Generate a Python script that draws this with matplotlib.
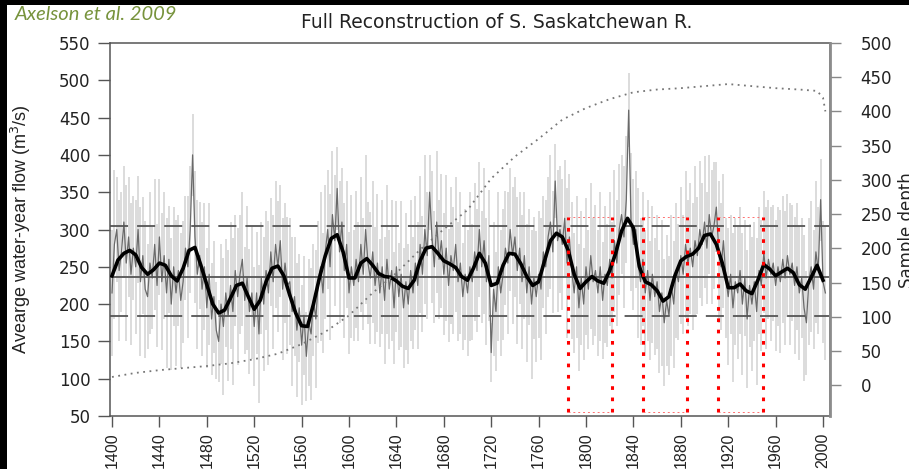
import numpy as np
import matplotlib.pyplot as plt
from matplotlib.patches import Rectangle

# annual reconstruction (every 2nd year, 1400-2002)
years = np.arange(1400, 2003, 2)
flow = [
    # 1400-1498
    215, 280, 300, 245, 270, 310, 255, 290, 240, 275,
    250, 300, 230, 265, 220, 210, 255, 235, 280, 225,
    290, 230, 265, 215, 260, 200, 250, 215, 245, 205,
    230, 275, 250, 300, 400, 290, 240, 265, 220, 250,
    195, 240, 180, 210, 165, 150, 200, 170, 215, 185,
    # 1500-1598
    225, 190, 245, 210, 240, 260, 205, 235, 190, 215,
    170, 215, 160, 235, 200, 245, 215, 270, 230, 280,
    250, 285, 220, 255, 225, 230, 190, 210, 165, 195,
    145, 185, 130, 175, 160, 205, 180, 230, 250, 215,
    270, 300, 250, 320, 285, 355, 270, 310, 245, 280,
    # 1600-1698
    215, 250, 225, 260, 230, 280, 240, 300, 255, 235,
    270, 225, 255, 215, 250, 205, 260, 220, 245, 195,
    250, 210, 240, 195, 230, 200, 245, 215, 255, 225,
    280, 240, 300, 265, 350, 290, 250, 310, 260, 285,
    240, 275, 225, 265, 245, 280, 230, 255, 210, 240,
    # 1700-1798
    215, 250, 230, 270, 245, 300, 250, 285, 230, 265,
    135, 220, 190, 250, 215, 240, 275, 255, 300, 265,
    290, 245, 275, 230, 265, 215, 250, 200, 235, 210,
    240, 220, 270, 250, 290, 310, 270, 365, 285, 300,
    280, 315, 255, 290, 245, 215, 250, 195, 235, 200,
    # 1800-1898
    250, 220, 265, 230, 245, 215, 250, 205, 240, 225,
    260, 235, 285, 255, 300, 320, 290, 340, 460, 310,
    280, 300, 255, 230, 260, 215, 245, 205, 240, 210,
    230, 190, 215, 175, 205, 185, 225, 200, 245, 230,
    265, 240, 280, 255, 275, 250, 285, 265, 300, 280,
    # 1900-1998
    310, 275, 320, 290, 305, 330, 270, 250, 285, 235,
    210, 240, 195, 230, 215, 245, 200, 235, 180, 225,
    200, 230, 190, 245, 225, 270, 235, 260, 240, 255,
    225, 250, 230, 260, 235, 265, 240, 255, 225, 250,
    215, 235, 195, 175, 230, 250, 220, 270, 245, 340,
    # 2000-2002
    230, 215,
]
# half height of the light grey range bar for each year
spread = [
    85, 100, 70, 95, 80, 75, 105, 80, 95, 70,
    90, 72, 100, 78, 92, 70, 95, 68, 88, 82,
    78, 92, 85, 100, 72, 88, 80, 98, 75, 90,
    82, 70, 95, 85, 55, 88, 100, 72, 90, 85,
    80, 95, 75, 75, 65, 55, 80, 92, 72, 88,

    85, 98, 75, 92, 80, 90, 72, 96, 84, 88,
    80, 82, 92, 75, 90, 80, 96, 72, 90, 85,
    88, 75, 95, 80, 92, 85, 100, 80, 90, 72,
    80, 80, 60, 85, 88, 75, 92, 82, 100, 80,
    90, 80, 98, 85, 88, 55, 95, 72, 90, 85,

    82, 96, 74, 92, 80, 90, 75, 100, 82, 88,
    95, 78, 92, 72, 90, 85, 100, 80, 95, 75,
    88, 72, 98, 80, 92, 80, 95, 75, 90, 85,
    92, 78, 100, 85, 50, 88, 75, 95, 80, 90,
    82, 98, 76, 92, 85, 90, 80, 95, 72, 88,

    85, 100, 78, 92, 82, 90, 75, 98, 85, 88,
    40, 90, 80, 100, 85, 88, 76, 95, 82, 92,
    80, 98, 75, 90, 85, 92, 78, 100, 82, 88,
    85, 95, 75, 90, 80, 90, 82, 50, 95, 85,
    88, 78, 100, 85, 92, 80, 95, 85, 90, 75,

    92, 80, 98, 85, 88, 85, 100, 78, 92, 82,
    90, 75, 95, 85, 88, 80, 95, 85, 50, 92,
    88, 78, 100, 85, 90, 85, 95, 80, 92, 78,
    90, 82, 98, 85, 88, 80, 95, 85, 90, 78,
    92, 80, 98, 85, 88, 85, 100, 78, 92, 82,

    88, 75, 80, 90, 85, 60, 95, 85, 90, 80,
    92, 80, 100, 85, 88, 85, 95, 78, 92, 82,
    90, 80, 98, 85, 88, 82, 95, 80, 90, 78,
    88, 80, 96, 85, 90, 82, 95, 78, 92, 85,
    90, 80, 98, 70, 85, 88, 80, 95, 85, 55,

    82, 90,
]

# smoothed reconstruction, every 5 years
smooth_years = np.arange(1400, 2001, 5)
smooth = [
    238, 259, 268, 272, 266, 249, 240, 246, 255, 252,
    238, 231, 248, 272, 276, 252, 226, 200, 188, 192,
    208, 225, 228, 210, 193, 205, 230, 248, 251, 238,
    212, 188, 171, 170, 200, 235, 265, 288, 293, 270,
    235, 235, 255, 261, 252, 241, 237, 236, 231, 224,
    221, 232, 258, 275, 277, 268, 258, 254, 249, 237,
    232, 248, 268, 255, 225, 228, 252, 268, 267, 254,
    237, 225, 230, 258, 285, 295, 290, 272, 240, 221,
    230, 237, 231, 228, 245, 268, 298, 315, 302, 250,
    230, 226, 218, 204, 210, 238, 258, 264, 267, 275,
    292, 294, 280, 255, 222, 222, 227, 218, 214, 232,
    253, 247, 238, 243, 248, 242, 226, 220, 236, 252,
    232,
]

mean_flow = 236
band = [305, 184]

# sample depth (right axis)
depth_years = [1400, 1420, 1440, 1460, 1480, 1500, 1520, 1540, 1560, 1580,
               1600, 1620, 1640, 1660, 1680, 1700, 1720, 1740, 1760, 1780,
               1800, 1820, 1840, 1860, 1880, 1900, 1920, 1940, 1960, 1980,
               1995, 2000, 2002]
depth = [12, 18, 22, 25, 28, 32, 38, 46, 60, 78,
         102, 135, 164, 198, 228, 256, 302, 334, 360, 388,
         405, 418, 428, 432, 434, 437, 440, 437, 434, 432,
         430, 420, 400]

# drought periods marked in red
box_start = [1785, 1848, 1911]
box_end = [1822, 1885, 1949]
box_low, box_high = 55, 317

fig = plt.figure(figsize=(9.09, 4.69), dpi=100, facecolor='black')
fig.patches.append(Rectangle((7 / 909, 0), 1, 464 / 469, transform=fig.transFigure,
                             facecolor='white', edgecolor='none', zorder=-1))
ax = fig.add_axes([110 / 909, 1 - 416 / 469, 720 / 909, 373 / 469])

flow = np.array(flow)
spread = np.array(spread)
ax.vlines(years, flow - spread, flow + spread, color='#dcdcdc', lw=1.4, zorder=1)
ax.plot(years, flow, color='#6a6a6a', lw=0.9, zorder=2)

ax.axhline(mean_flow, color='#555555', lw=1.3, zorder=3)
for lvl in band:
    ax.axhline(lvl, color='#555555', lw=1.3, ls=(0, (10, 5)), zorder=3)

ax.plot(smooth_years, smooth, color='black', lw=2.6, zorder=4)

for a, b in zip(box_start, box_end):
    ax.vlines([a, b], box_low, box_high, color='red', lw=2.2, ls=(0, (1.2, 2.5)), zorder=5)
    ax.hlines([box_low, box_high], a, b, color='#ff7070', lw=0.7, ls=(0, (2, 3)), zorder=5)

ax.set_xlim(1398.3, 2005.9)
ax.set_ylim(50, 550)
ax.set_xticks(np.arange(1400, 2001, 40))
ax.set_yticks(np.arange(50, 551, 50))
ax.tick_params(axis='y', direction='out', length=9, width=1, color='#555555', pad=5,
               labelsize=12, labelcolor='#222222')
ax.tick_params(axis='x', direction='out', length=8, width=1, color='#555555', pad=4,
               labelsize=11.5, labelcolor='#222222', labelrotation=90)
for lab in ax.get_xticklabels():
    lab.set_fontfamily('Liberation Sans')
for sp in ax.spines.values():
    sp.set_color('#555555')
    sp.set_linewidth(1.1)

ax.set_ylabel('Avearge water-year flow (m$^3$/s)', fontsize=13, family='Liberation Sans',
              color='#222222')
ax.yaxis.set_label_coords(-0.107, 0.5)

ax2 = ax.twinx()
ax2.plot(depth_years, depth, color='#777777', ls=(0, (1, 2.5)), lw=1.3)
ax2.set_ylim(-45, 500)
ax2.set_yticks(np.arange(0, 501, 50))
ax2.tick_params(axis='y', direction='out', length=8, width=1, color='#888888', pad=14,
                labelsize=12, labelcolor='#222222')
for k in ['left', 'top', 'bottom']:
    ax2.spines[k].set_visible(False)
ax2.spines['right'].set_color('#8c8c8c')
ax2.spines['right'].set_linewidth(2)

fig.text(497 / 909, 1 - 22 / 469, 'Full Reconstruction of S. Saskatchewan R.',
         ha='center', va='center', fontsize=13.5, color='#222222')
fig.text(15 / 909, 1 - 20 / 469, 'Axelson et al. 2009', ha='left', va='baseline',
         fontsize=14.5, family='Lato', style='italic', color='#77933c')
# the reference screenshot cuts this label at the right edge
fig.text(898 / 909, 0.51, 'Sample depth', rotation=90, ha='left', va='center',
         fontsize=12, color='#222222')

fig.savefig('out.png', dpi=100, facecolor=fig.get_facecolor())
